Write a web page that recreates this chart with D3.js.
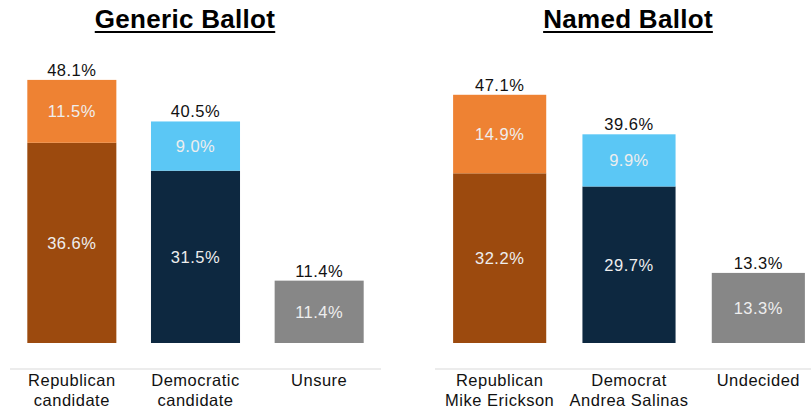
<!DOCTYPE html>
<html>
<head>
<meta charset="utf-8">
<script src="https://cdn.jsdelivr.net/npm/d3@7"></script>
<style>
  body { margin: 0; background: #fff; }
  svg { display: block; font-family: "Liberation Sans", Arial, sans-serif; }
</style>
</head>
<body>
<svg id="chart" width="811" height="408"></svg>
<script>
// Generic ballot
const genericCategories = [["Republican", "candidate"], ["Democratic", "candidate"], ["Unsure"]];
const genericBase = [36.6, 31.5, 11.4];   // hard support / unsure
const genericLean = [11.5, 9.0, 0];       // leaners
const genericTotals = [48.1, 40.5, 11.4];

// Named ballot
const namedCategories = [["Republican", "Mike Erickson"], ["Democrat", "Andrea Salinas"], ["Undecided"]];
const namedBase = [32.2, 29.7, 13.3];
const namedLean = [14.9, 9.9, 0];
const namedTotals = [47.1, 39.6, 13.3];

const baseColors = ["#9c4a0e", "#0d2840", "#878787"];
const leanColors = ["#ee8233", "#5bc7f5", "#878787"];

const svg = d3.select("#chart");
const W = 811;

function drawPanel(opts) {
    const { title, titleX, cats, base, lean, totals, xRange, yTop } = opts;
    const g = svg.append("g");

    const x = d3.scaleBand()
        .domain(d3.range(cats.length))
        .range(xRange)
        .paddingInner(0.28)
        .paddingOuter(0.14);

    // bottom of bars at 343, yTop = pixel for 50%
    const y = d3.scaleLinear().domain([0, 50]).range([343, yTop]);

    // title with underline
    const t = g.append("text")
        .attr("x", titleX)
        .attr("y", 28)
        .attr("text-anchor", "middle")
        .attr("font-weight", "bold")
        .attr("font-size", 26)
        .attr("letter-spacing", 0.3)
        .attr("fill", "#000")
        .text(title);
    const tw = t.node().getComputedTextLength();
    g.append("rect")
        .attr("x", titleX - tw / 2)
        .attr("y", 31)
        .attr("width", tw)
        .attr("height", 2)
        .attr("fill", "#000");

    // base segments
    g.selectAll(".base")
        .data(base)
        .enter()
        .append("rect")
        .attr("class", "base")
        .attr("x", (d, i) => x(i))
        .attr("width", x.bandwidth())
        .attr("y", d => y(d))
        .attr("height", d => y(0) - y(d))
        .attr("fill", (d, i) => baseColors[i]);

    // lean segments stacked on top
    g.selectAll(".lean")
        .data(lean)
        .enter()
        .filter(d => d > 0)
        .append("rect")
        .attr("class", "lean")
        .attr("x", (d, i) => x(i))
        .attr("width", x.bandwidth())
        .attr("y", (d, i) => y(base[i] + d))
        .attr("height", (d, i) => y(base[i]) - y(base[i] + d))
        .attr("fill", (d, i) => leanColors[i]);

    // inner labels
    base.forEach((d, i) => {
        g.append("text")
            .attr("x", x(i) + x.bandwidth() / 2)
            .attr("y", (y(0) + y(d)) / 2)
            .attr("dy", "0.35em")
            .attr("text-anchor", "middle")
            .attr("font-size", 16.5)
            .attr("letter-spacing", 0.5)
            .attr("fill", "#eeeeee")
            .text(d.toFixed(1) + "%");
        if (lean[i] > 0) {
            g.append("text")
                .attr("x", x(i) + x.bandwidth() / 2)
                .attr("y", (y(d) + y(d + lean[i])) / 2)
                .attr("dy", "0.35em")
                .attr("text-anchor", "middle")
                .attr("font-size", 16.5)
                .attr("letter-spacing", 0.5)
                .attr("fill", "#eeeeee")
                .text(lean[i].toFixed(1) + "%");
        }
    });

    // totals above bars
    g.selectAll(".total")
        .data(totals)
        .enter()
        .append("text")
        .attr("class", "total")
        .attr("x", (d, i) => x(i) + x.bandwidth() / 2)
        .attr("y", d => y(d) - 4)
        .attr("text-anchor", "middle")
        .attr("font-size", 16.5)
        .attr("letter-spacing", 0.5)
        .attr("fill", "#111")
        .text(d => d.toFixed(1) + "%");

    // baseline
    g.append("line")
        .attr("x1", xRange[0])
        .attr("x2", Math.min(xRange[1], W))
        .attr("y1", 369)
        .attr("y2", 369)
        .attr("stroke", "#d9d9d9")
        .attr("stroke-width", 1);

    // category labels
    cats.forEach((lines, i) => {
        const lbl = g.append("text")
            .attr("text-anchor", "middle")
            .attr("font-size", 16.5)
            .attr("letter-spacing", 0.5)
            .attr("fill", "#111");
        lines.forEach((s, j) => {
            lbl.append("tspan")
                .attr("x", x(i) + x.bandwidth() / 2)
                .attr("y", 386 + j * 20)
                .text(s);
        });
    });
}

drawPanel({
    title: "Generic Ballot", titleX: 185,
    cats: genericCategories, base: genericBase, lean: genericLean, totals: genericTotals,
    xRange: [10, 381], yTop: 343 - 50 * 5.47
});

drawPanel({
    title: "Named Ballot", titleX: 628,
    cats: namedCategories, base: namedBase, lean: namedLean, totals: namedTotals,
    xRange: [435, 823], yTop: 343 - 50 * 5.27
});
</script>
</body>
</html>
